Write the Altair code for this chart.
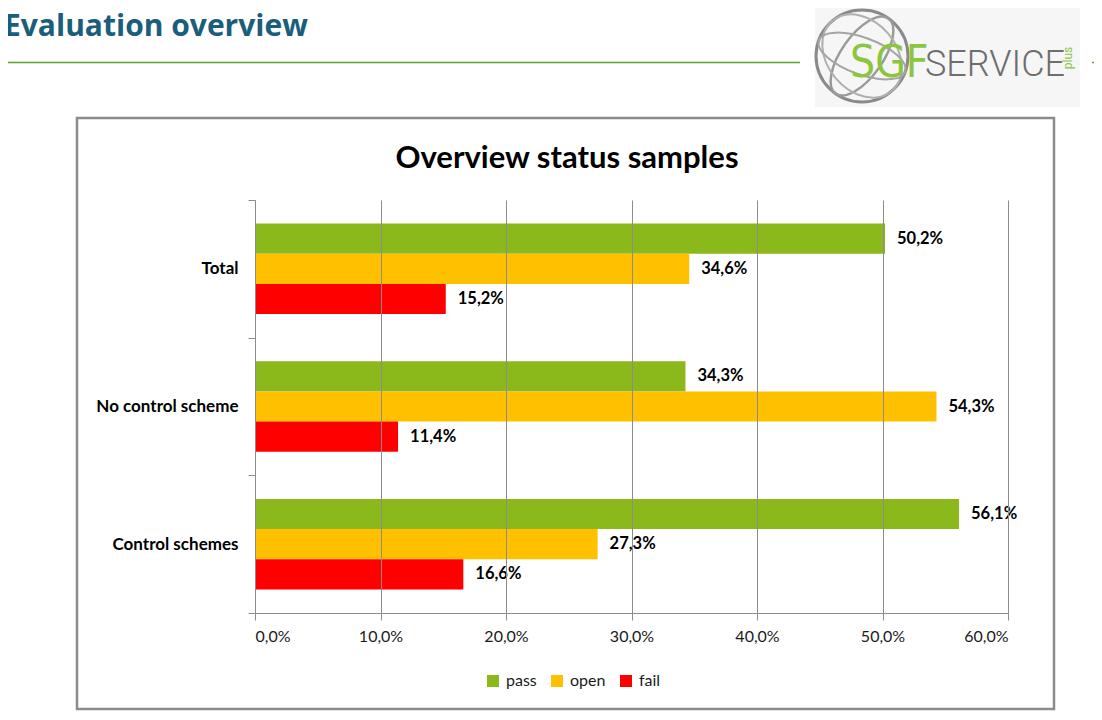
import altair as alt
import pandas as pd

# ---- data ----
categories = ["Total", "No control scheme", "Control schemes"]
series = ["pass", "open", "fail"]
pass_vals = [50.2, 34.3, 56.1]
open_vals = [34.6, 54.3, 27.3]
fail_vals = [15.2, 11.4, 16.6]
colors = ["#8BB81B", "#FFC000", "#FF0000"]

rows = []
for i, c in enumerate(categories):
    for s, vals in zip(series, [pass_vals, open_vals, fail_vals]):
        v = vals[i]
        rows.append({"category": c, "status": s, "value": v,
                     "label": f"{v:.1f}".replace(".", ",") + "%"})
df = pd.DataFrame(rows)

# plot area: page x 255..1008, y 200..613  (page margin 8)
W, H = 753, 413
OX, OY = 255, 200  # page coords of plot origin

def px(X):
    return X - OX

def py(Y):
    return Y - OY

FONT = "Lato"
one = pd.DataFrame({"d": [0]})

y_enc = alt.Y("category:N", sort=categories,
              scale=alt.Scale(paddingInner=0, paddingOuter=0),
              axis=alt.Axis(title=None, tickBand="extent", grid=False,
                            domainColor="#8c8c8c", tickColor="#8c8c8c",
                            tickSize=7, labelPadding=10, zindex=1,
                            labelFont=FONT, labelFontSize=17,
                            labelFontWeight="bold", labelColor="#000000"))
yoff_enc = alt.YOffset("status:N", sort=series,
                       scale=alt.Scale(domain=series, paddingOuter=0.78,
                                       paddingInner=0))
x_enc = alt.X("value:Q",
              scale=alt.Scale(domain=[0, 60], nice=False),
              axis=alt.Axis(title=None, values=[0, 10, 20, 30, 40, 50, 60],
                            grid=True, gridColor="#8c8c8c", gridWidth=1,
                            domainColor="#8c8c8c", tickColor="#8c8c8c",
                            tickSize=7, labelPadding=8, zindex=1,
                            labelFont=FONT, labelFontSize=16,
                            labelColor="#1a1a1a",
                            labelExpr="replace(format(datum.value, '.1f'), '.', ',') + '%'"))

# ---- decoration layers (slide) ----
logo_bg = alt.Chart(one).mark_rect(fill="#f6f6f6").encode(
    x=alt.value(px(815)), x2=alt.value(px(1080)),
    y=alt.value(py(5)), y2=alt.value(py(107)))

GX, GY, GS = 862, 56, 92 * 92
globe_circle = alt.Chart(one).mark_point(
    shape="circle", filled=False, stroke="#8a8a8a", strokeWidth=3,
    size=GS, opacity=1).encode(x=alt.value(px(GX)), y=alt.value(py(GY)))
meridian1 = alt.Chart(one).mark_point(
    shape="M0,-1 A0.45,1 0 1,1 0,1 A0.45,1 0 1,1 0,-1 Z", filled=False,
    stroke="#9a9a9a", strokeWidth=2.5, size=GS, angle=35, opacity=1).encode(
    x=alt.value(px(GX)), y=alt.value(py(GY)))
meridian2 = alt.Chart(one).mark_point(
    shape="M0,-1 A0.75,1 0 1,1 0,1 A0.75,1 0 1,1 0,-1 Z", filled=False,
    stroke="#b0b0b0", strokeWidth=2, size=GS, angle=320, opacity=1).encode(
    x=alt.value(px(GX)), y=alt.value(py(GY)))
latitude = alt.Chart(one).mark_point(
    shape="M-1,0 A1,0.4 0 1,1 1,0 A1,0.4 0 1,1 -1,0 Z", filled=False,
    stroke="#a5a5a5", strokeWidth=2, size=GS, angle=20, opacity=1).encode(
    x=alt.value(px(GX)), y=alt.value(py(GY)))

sgf = alt.Chart(one).mark_text(
    text="SGF", font="DejaVu Sans Condensed, Roboto",
    fontSize=44, fontWeight="normal", color="#8CC63F", align="left",
    baseline="alphabetic").encode(x=alt.value(px(850)), y=alt.value(py(77)))
service = alt.Chart(one).mark_text(
    text="SERVICE", font="Roboto", fontSize=36, fontWeight=300,
    color="#6e6e6e", align="left",
    baseline="alphabetic").encode(x=alt.value(px(925)), y=alt.value(py(76)))
plus = alt.Chart(one).mark_text(
    text="plus", font="Roboto", fontSize=12, color="#8CC63F", angle=270,
    align="center", baseline="middle").encode(
    x=alt.value(px(1068)), y=alt.value(py(58)))

slide_title = alt.Chart(one).mark_text(
    text="Evaluation overview", font="Open Sans", fontSize=30,
    fontWeight="bold", color="#1A5E7C", align="left",
    baseline="alphabetic").encode(x=alt.value(px(4)), y=alt.value(py(36)))

line1 = alt.Chart(one).mark_rule(color="#5E9E2A", strokeWidth=1.5).encode(
    x=alt.value(px(0)), x2=alt.value(px(800)), y=alt.value(py(62.5)))
line2 = alt.Chart(one).mark_rule(color="#5E9E2A", strokeWidth=1.5).encode(
    x=alt.value(px(1092)), x2=alt.value(px(1102)), y=alt.value(py(62.5)))

chart_box = alt.Chart(one).mark_rect(
    fill="white", stroke="#8c8c8c", strokeWidth=2.5).encode(
    x=alt.value(px(77)), x2=alt.value(px(1054)),
    y=alt.value(py(118)), y2=alt.value(py(709)))

chart_title = alt.Chart(one).mark_text(
    text="Overview status samples", font=FONT, fontSize=31,
    fontWeight="bold", color="#000000", align="center",
    baseline="alphabetic").encode(x=alt.value(px(567)), y=alt.value(py(168)))

# ---- data layers ----
bars = alt.Chart(df).mark_bar(opacity=1).encode(
    x=x_enc, y=y_enc, yOffset=yoff_enc,
    color=alt.Color("status:N", sort=series,
                    scale=alt.Scale(domain=series, range=colors),
                    legend=alt.Legend(title=None, orient="none",
                                      direction="horizontal",
                                      legendX=px(485), legendY=py(673),
                                      symbolType="square", symbolSize=144,
                                      symbolStrokeWidth=0, symbolOpacity=1,
                                      labelFont=FONT, labelFontSize=16,
                                      labelColor="#1a1a1a", labelOffset=5,
                                      columnPadding=12)))

labels = alt.Chart(df).mark_text(
    font=FONT, fontSize=16.5, fontWeight="bold", color="#000000",
    align="left", baseline="middle", dx=12).encode(
    x="value:Q", y=alt.Y("category:N", sort=categories),
    yOffset=alt.YOffset("status:N", sort=series), text="label:N")

chart = alt.layer(
    slide_title, line1, line2, logo_bg, globe_circle, meridian1, meridian2,
    latitude, sgf, service, plus, chart_box, chart_title, bars, labels
).properties(
    width=W, height=H,
    autosize=alt.AutoSizeParams(type="none"),
    padding={"left": OX - 8, "top": OY - 8, "right": 1102 - 16 - (OX - 8) - W,
             "bottom": 704 - (OY - 8) - H},
    background="white",
).configure_view(stroke=None)

chart.save("out.html", embed_options={"renderer": "svg", "actions": False})
